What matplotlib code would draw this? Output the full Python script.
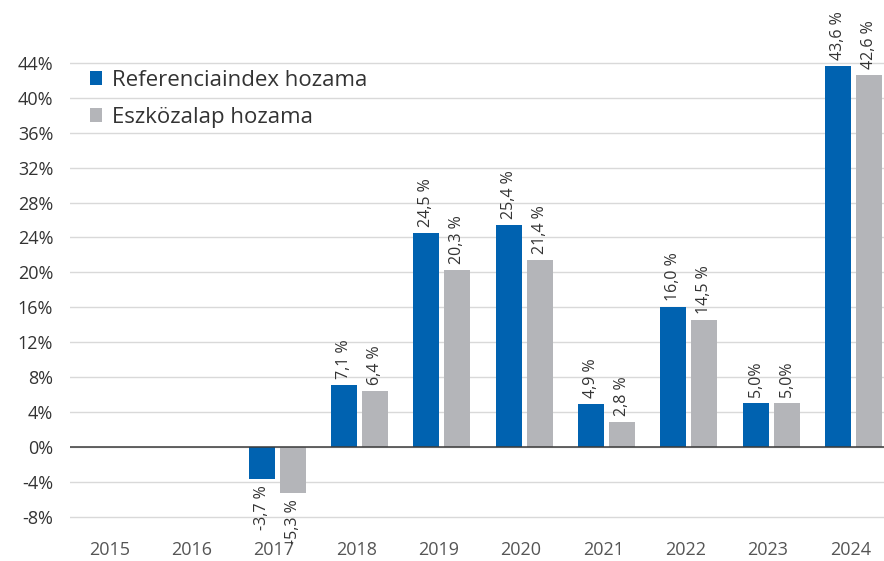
import numpy as np
import matplotlib.pyplot as plt
from matplotlib.ticker import FuncFormatter

years = ["2015", "2016", "2017", "2018", "2019", "2020", "2021", "2022", "2023", "2024"]
index_ret = [None, None, -3.7, 7.1, 24.5, 25.4, 4.9, 16.0, 5.0, 43.6]
fund_ret = [None, None, -5.3, 6.4, 20.3, 21.4, 2.8, 14.5, 5.0, 42.6]
index_lbl = ["", "", "-3,7 %", "7,1 %", "24,5 %", "25,4 %", "4,9 %", "16,0 %", "5,0%", "43,6 %"]
fund_lbl = ["", "", "-5,3 %", "6,4 %", "20,3 %", "21,4 %", "2,8 %", "14,5 %", "5,0%", "42,6 %"]

blue = "#0062b0"
grey = "#b4b5b9"

plt.rcParams["font.family"] = ["Open Sans", "DejaVu Sans"]
fig = plt.figure(figsize=(8.84, 5.61), dpi=100)
ax = fig.add_axes([0.079, 0.048, 0.921, 0.933])

x = np.arange(len(years))
w = 0.315
off = 0.188
for vals, lbls, col, sign in [(index_ret, index_lbl, blue, -1), (fund_ret, fund_lbl, grey, 1)]:
    for i, (v, t) in enumerate(zip(vals, lbls)):
        if v is None:
            continue
        ax.bar(x[i] + sign * off, v, width=w, color=col, zorder=3)
        if v >= 0:
            ax.text(x[i] + sign * off, v + 0.7, t, rotation=90, ha="center", va="bottom",
                    fontsize=11.5, color="#333333")
        else:
            ax.text(x[i] + sign * off, v - 0.7, t, rotation=90, ha="center", va="top",
                    fontsize=11.5, color="#333333")

ax.axhline(0, color="#3a3a3a", linewidth=1.1, zorder=4)
ax.set_xlim(-0.52, 9.37)
ax.set_ylim(-10, 50)
ax.set_yticks(np.arange(-8, 45, 4))
ax.yaxis.set_major_formatter(FuncFormatter(lambda v, p: f"{v:.0f}%"))
ax.set_xticks(x - 0.04)
ax.set_xticklabels(years)
ax.grid(axis="y", color="#d9d9d9", linewidth=1, zorder=0)
for s in ax.spines.values():
    s.set_visible(False)
ax.tick_params(axis="both", length=0, labelsize=13)
ax.tick_params(axis="y", pad=12, labelcolor="#333333")
ax.tick_params(axis="x", pad=5, labelcolor="#555555")

ax.bar(0, 0, color=blue, label="Referenciaindex hozama")
ax.bar(0, 0, color=grey, label="Eszközalap hozama")
ax.legend(loc="upper left", bbox_to_anchor=(0.0, 0.925), frameon=False, fontsize=16,
          handlelength=0.55, handleheight=0.55, handletextpad=0.45, labelspacing=0.72,
          labelcolor="#333333")

fig.savefig("out.png", dpi=100)
